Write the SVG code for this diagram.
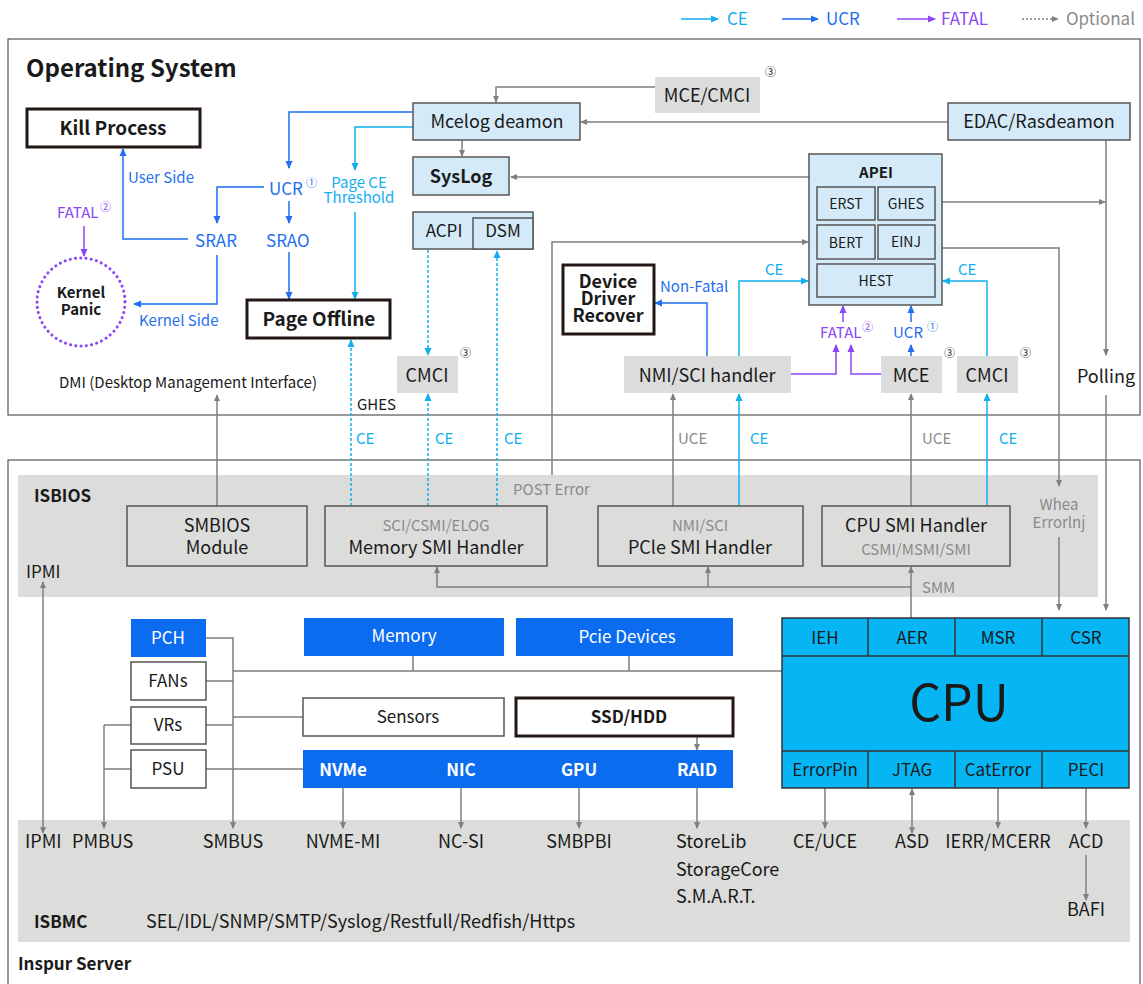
<svg xmlns="http://www.w3.org/2000/svg" width="1143" height="984" viewBox="0 0 1143 984">
<defs>
<style>
text{font-family:"Noto Sans CJK SC","Noto Sans",sans-serif;fill:#1a1a1a}
.t18{font-size:18px}
.t17{font-size:17px}
.t15{font-size:15px}
.t14{font-size:14px}
.b{font-weight:bold}
.m{text-anchor:middle}
.gy{fill:#8a8a8a}
.ce{fill:#12aef0}
.ucr{fill:#1f6ff0}
.fat{fill:#8b47f5}
.wh{fill:#ffffff}
.num{font-size:11px}
.frame{fill:none;stroke:#555;stroke-width:1.2}
.band{fill:#dcdddb}
.lb{fill:#d4eaf8;stroke:#555;stroke-width:1.5}
.gb{fill:#dcdcdc}
.bx{fill:none;stroke:#555;stroke-width:1.5}
.wb{fill:#fff;stroke:#555;stroke-width:1.5}
.thick{fill:#fff;stroke:#231815;stroke-width:3}
.blue{fill:#0b6cf0}
.cpu{fill:#06b6f4;stroke:#333;stroke-width:1.5}
.c{fill:none;stroke-width:1.5}
.g{stroke:#7f7f7f}
.cl{stroke:#12aef0}
.ul{stroke:#1f6ff0}
.fl{stroke:#8b47f5}
.dot{stroke-dasharray:3 2}
.ag{marker-end:url(#ag)}
.ac{marker-end:url(#ac)}
.au{marker-end:url(#au)}
.af{marker-end:url(#af)}
</style>
<marker id="ag" viewBox="0 0 8 8" refX="7" refY="4" markerWidth="7" markerHeight="7" orient="auto" markerUnits="userSpaceOnUse"><path d="M0,0.5 L8,4 L0,7.5 Z" fill="#7f7f7f"/></marker>
<marker id="ags" viewBox="0 0 8 8" refX="1" refY="4" markerWidth="7" markerHeight="7" orient="auto-start-reverse" markerUnits="userSpaceOnUse"><path d="M0,0.5 L8,4 L0,7.5 Z" fill="#7f7f7f"/></marker>
<marker id="ac" viewBox="0 0 8 8" refX="7" refY="4" markerWidth="8" markerHeight="8" orient="auto" markerUnits="userSpaceOnUse"><path d="M0,0.5 L8,4 L0,7.5 Z" fill="#12aef0"/></marker>
<marker id="au" viewBox="0 0 8 8" refX="7" refY="4" markerWidth="8" markerHeight="8" orient="auto" markerUnits="userSpaceOnUse"><path d="M0,0.5 L8,4 L0,7.5 Z" fill="#1f6ff0"/></marker>
<marker id="af" viewBox="0 0 8 8" refX="7" refY="4" markerWidth="8" markerHeight="8" orient="auto" markerUnits="userSpaceOnUse"><path d="M0,0.5 L8,4 L0,7.5 Z" fill="#8b47f5"/></marker>
</defs>
<rect width="1143" height="984" fill="#fff"/>

<g id="legend">
<path class="c cl ac" d="M681,19 H718"/><text class="t17 ce" x="727" y="25">CE</text>
<path class="c ul au" d="M782,19 H818"/><text class="t17 ucr" x="826" y="25">UCR</text>
<path class="c fl af" d="M897,19 H935"/><text class="t17 fat" x="941" y="25">FATAL</text>
<path class="c g ag" d="M1022,19 H1058" stroke-dasharray="2 2"/><text class="t17 gy" x="1066" y="25">Optional</text>
</g>

<g id="frames">
<rect class="frame" x="8" y="39" width="1132" height="376"/>
<rect class="frame" x="8" y="460" width="1132" height="540"/>
<rect class="band" x="18" y="475" width="1080" height="122"/>
<rect class="band" x="18" y="820" width="1112" height="122"/>
<text x="26" y="77" font-size="24" class="b">Operating System</text>
<text x="34" y="502" class="t17 b">ISBIOS</text>
<text x="34" y="928" class="t17 b">ISBMC</text>
<text x="18" y="970" class="t17 b">Inspur Server</text>
</g>

<g id="connectors">
<path class="c g ag" d="M655,87 H496 V102"/>
<path class="c g ag" d="M948,122 H581"/>
<path class="c g ag" d="M462,140 V156"/>
<path class="c g ag" d="M809,177 H511"/>
<path class="c g ag" d="M942,202 H1105"/>
<path class="c g ag" d="M942,248 H1059 V486"/>
<path class="c g ag" d="M1106,140 V355"/>
<path class="c g ag" d="M1106,395 V610"/>
<path class="c g ag" d="M1059,537 V610"/>
<path class="c g ag" d="M552,475 V242 H808"/>
<path class="c g ag" d="M217,506 V395"/>
<path class="c g ag" d="M673,506 V394"/>
<path class="c g ag" d="M911,506 V394"/>
<path class="c g ag" d="M911,618 V567"/>
<path class="c g ag" d="M911,587 H437 V567"/>
<path class="c g ag" d="M708,587 V567"/>
<path class="c g ag" d="M43,828 V582" marker-start="url(#ags)"/>
<path class="c g" d="M131,725 H104 M131,769 H104"/>
<path class="c g ag" d="M104,725 V828"/>
<path class="c g" d="M206,681 H233 M206,725 H233 M233,717 H303 M233,671 H782 M413,656 V671 M629,656 V671 M206,769 H303"/>
<path class="c g ag" d="M206,638 H233 V828"/>
<path class="c g ag" d="M697,737 V750"/>
<path class="c g ag" d="M343,788 V828"/>
<path class="c g ag" d="M461,788 V828"/>
<path class="c g ag" d="M579,788 V828"/>
<path class="c g ag" d="M697,788 V828"/>
<path class="c g ag" d="M825,788 V828"/>
<path class="c g ag" d="M912,828 V789" marker-start="url(#ags)"/>
<path class="c g ag" d="M998,788 V828"/>
<path class="c g ag" d="M1086,788 V828"/>
<path class="c g ag" d="M1086,855 V900"/>
<path class="c cl ac" d="M413,127 H355 V170"/>
<path class="c cl ac" d="M355,212 V299"/>
<path class="c cl ac" d="M739,506 V394"/>
<path class="c cl ac" d="M739,356 V281 H808"/>
<path class="c cl ac" d="M987,506 V394"/>
<path class="c cl ac" d="M987,356 V281 H943"/>
<path class="c cl dot ac" d="M351,506 V340"/>
<path class="c cl dot ac" d="M428,506 V394"/>
<path class="c cl dot ac" d="M497,506 V251"/>
<path class="c cl dot ac" d="M428,250 V355"/>
<path class="c ul au" d="M413,112 H289 V168"/>
<path class="c ul au" d="M289,201 V223"/>
<path class="c ul au" d="M264,187 H217 V223"/>
<path class="c ul au" d="M289,252 V299"/>
<path class="c ul au" d="M188,239 H123 V149"/>
<path class="c ul au" d="M217,255 V304 H134"/>
<path class="c ul au" d="M707,356 V303 H655"/>
<path class="c ul au" d="M911,322 V306"/>
<path class="c ul au" d="M911,356 V345"/>
<path class="c fl af" d="M84,226 V256"/>
<path class="c fl af" d="M843,322 V306"/>
<path class="c fl af" d="M791,374 H836 V345"/>
<path class="c fl af" d="M881,374 H851 V345"/>
</g>

<g id="labels">
<text x="128" y="183" class="t15 ucr">User Side</text>
<text x="139" y="326" class="t15 ucr">Kernel Side</text>
<text x="269" y="195" class="t17 ucr">UCR</text><text x="306" y="187" class="num ucr">①</text>
<text x="195" y="247" class="t17 ucr">SRAR</text>
<text x="266" y="247" class="t17 ucr">SRAO</text>
<text x="57" y="218" class="t15 fat">FATAL</text><text x="100" y="211" class="num fat">②</text>
<text x="359" y="188" class="t15 ce m">Page CE<tspan x="359" dy="15">Threshold</tspan></text>
<text x="59" y="388" class="t15">DMI (Desktop Management Interface)</text>
<text x="357" y="410" class="t15">GHES</text>
<text x="660" y="292" class="t15 ucr">Non-Fatal</text>
<text x="765" y="275" class="t15 ce">CE</text>
<text x="958" y="275" class="t15 ce">CE</text>
<text x="820" y="338" class="t15 fat">FATAL</text><text x="862" y="331" class="num fat">②</text>
<text x="893" y="338" class="t15 ucr">UCR</text><text x="927" y="331" class="num ucr">①</text>
<text x="356" y="444" class="t15 ce">CE</text>
<text x="435" y="444" class="t15 ce">CE</text>
<text x="504" y="444" class="t15 ce">CE</text>
<text x="678" y="444" class="t15 gy">UCE</text>
<text x="750" y="444" class="t15 ce">CE</text>
<text x="922" y="444" class="t15 gy">UCE</text>
<text x="999" y="444" class="t15 ce">CE</text>
<text x="513" y="495" class="t15 gy">POST Error</text>
<text x="922" y="593" class="t15 gy">SMM</text>
<text x="1059" y="510" class="t15 gy m">Whea<tspan x="1059" dy="18">Errorlnj</tspan></text>
<text x="26" y="578" class="t17">IPMI</text>
<text x="1106" y="383" class="t18 m">Polling</text>
</g>

<g id="kill-process"><rect class="thick" x="27" y="109" width="173" height="38"/><text x="113" y="135" font-size="19" class="b m">Kill Process</text></g>
<g id="kernel-panic"><circle cx="81" cy="302" r="44" fill="none" stroke="#8b47f5" stroke-width="3" stroke-linecap="round" stroke-dasharray="0.1 5.2"/><text x="81" y="298" class="t15 b m">Kernel<tspan x="81" dy="17">Panic</tspan></text></g>
<g id="page-offline"><rect class="thick" x="247" y="300" width="143" height="38"/><text x="319" y="326" font-size="19" class="b m">Page Offline</text></g>
<g id="mcelog"><rect class="lb" x="413" y="103" width="167" height="37"/><text x="497" y="128" class="t18 m">Mcelog deamon</text></g>
<g id="mce-cmci-top"><rect class="gb" x="655" y="77" width="105" height="36"/><text x="707" y="102" class="t18 m">MCE/CMCI</text><text x="765" y="76" class="num">③</text></g>
<g id="edac"><rect class="lb" x="948" y="103" width="182" height="37"/><text x="1039" y="128" class="t18 m">EDAC/Rasdeamon</text></g>
<g id="syslog"><rect class="lb" x="413" y="157" width="96" height="38"/><text x="461" y="183" class="t18 b m">SysLog</text></g>
<g id="acpi"><rect class="lb" x="413" y="212" width="120" height="37"/><rect class="lb" x="473" y="218" width="60" height="31"/><text x="444" y="237" class="t17 m">ACPI</text><text x="503" y="237" class="t17 m">DSM</text></g>
<g id="apei"><rect class="lb" x="809" y="154" width="133" height="151"/><text x="876" y="178" class="t15 b m">APEI</text>
<rect class="lb" x="817" y="187" width="58" height="33"/><text x="846" y="209" class="t14 m">ERST</text>
<rect class="lb" x="878" y="187" width="57" height="33"/><text x="906" y="209" class="t14 m">GHES</text>
<rect class="lb" x="817" y="225" width="58" height="34"/><text x="846" y="248" class="t14 m">BERT</text>
<rect class="lb" x="878" y="225" width="57" height="34"/><text x="906" y="247" class="t14 m">EINJ</text>
<rect class="lb" x="817" y="264" width="118" height="33"/><text x="876" y="286" class="t14 m">HEST</text></g>
<g id="ddr"><rect class="thick" x="563" y="265" width="91" height="69"/><text x="608" y="288" class="t18 b m">Device<tspan x="608" dy="17">Driver</tspan><tspan x="608" dy="17">Recover</tspan></text></g>
<g id="cmci-left"><rect class="gb" x="397" y="356" width="61" height="37"/><text x="427" y="382" class="t18 m">CMCI</text><text x="460" y="357" class="num">③</text></g>
<g id="nmi-sci"><rect class="gb" x="624" y="356" width="167" height="37"/><text x="707" y="382" class="t18 m">NMI/SCI handler</text></g>
<g id="mce"><rect class="gb" x="881" y="356" width="61" height="37"/><text x="911" y="382" class="t18 m">MCE</text><text x="944" y="357" class="num">③</text></g>
<g id="cmci-right"><rect class="gb" x="957" y="356" width="61" height="37"/><text x="987" y="382" class="t18 m">CMCI</text><text x="1020" y="357" class="num">③</text></g>

<g id="smbios"><rect class="bx" x="127" y="506" width="180" height="60"/><text x="217" y="532" class="t18 m">SMBIOS</text><text x="217" y="554" class="t18 m">Module</text></g>
<g id="mem-smi"><rect class="bx" x="325" y="506" width="222" height="60"/><text x="436" y="531" class="t15 gy m">SCI/CSMI/ELOG</text><text x="436" y="554" class="t18 m">Memory SMI Handler</text></g>
<g id="pcie-smi"><rect class="bx" x="598" y="506" width="205" height="60"/><text x="700" y="531" class="t15 gy m">NMI/SCI</text><text x="700" y="554" class="t18 m">PCle SMI Handler</text></g>
<g id="cpu-smi"><rect class="bx" x="822" y="506" width="188" height="60"/><text x="916" y="532" class="t18 m">CPU SMI Handler</text><text x="916" y="555" class="t15 gy m">CSMI/MSMI/SMI</text></g>

<g id="pch"><rect class="blue" x="131" y="619" width="75" height="38"/><text x="168" y="644" class="t17 wh m">PCH</text></g>
<g id="fans"><rect class="wb" x="131" y="662" width="75" height="38"/><text x="168" y="687" class="t17 m">FANs</text></g>
<g id="vrs"><rect class="wb" x="131" y="707" width="75" height="37"/><text x="168" y="731" class="t17 m">VRs</text></g>
<g id="psu"><rect class="wb" x="131" y="750" width="75" height="38"/><text x="168" y="775" class="t17 m">PSU</text></g>
<g id="memory"><rect class="blue" x="304" y="618" width="200" height="38"/><text x="404" y="642" class="t17 wh m">Memory</text></g>
<g id="pcie-devices"><rect class="blue" x="516" y="618" width="217" height="38"/><text x="627" y="643" class="t17 wh m">Pcie Devices</text></g>
<g id="sensors"><rect class="wb" x="303" y="698" width="201" height="38"/><text x="408" y="723" class="t17 m">Sensors</text></g>
<g id="ssd"><rect class="thick" x="516" y="698" width="217" height="38" stroke-width="2.5"/><text x="629" y="723" class="t17 b m">SSD/HDD</text></g>
<g id="devices"><rect class="blue" x="303" y="750" width="430" height="38"/>
<text x="343" y="776" class="t17 b wh m">NVMe</text><text x="461" y="776" class="t17 b wh m">NIC</text><text x="579" y="776" class="t17 b wh m">GPU</text><text x="697" y="776" class="t17 b wh m">RAID</text></g>
<g id="cpu"><rect class="cpu" x="782" y="618" width="347" height="170"/>
<path d="M782,656 H1129 M782,751 H1129 M868,618 V656 M955,618 V656 M1042,618 V656 M868,751 V788 M955,751 V788 M1042,751 V788" stroke="#333" stroke-width="1.5" fill="none"/>
<text x="825" y="644" class="t17 m">IEH</text><text x="912" y="644" class="t17 m">AER</text><text x="998" y="644" class="t17 m">MSR</text><text x="1086" y="644" class="t17 m">CSR</text>
<text x="959" y="721" font-size="50" class="m">CPU</text>
<text x="825" y="776" class="t17 m">ErrorPin</text><text x="912" y="776" class="t17 m">JTAG</text><text x="998" y="776" class="t17 m">CatError</text><text x="1086" y="776" class="t17 m">PECI</text></g>

<g id="bmc-labels">
<text x="25" y="848" class="t18">IPMI</text>
<text x="72" y="848" class="t18">PMBUS</text>
<text x="233" y="848" class="t18 m">SMBUS</text>
<text x="343" y="848" class="t18 m">NVME-MI</text>
<text x="461" y="848" class="t18 m">NC-SI</text>
<text x="579" y="848" class="t18 m">SMBPBI</text>
<text x="676" y="848" class="t18">StoreLib</text>
<text x="676" y="876" class="t18">StorageCore</text>
<text x="676" y="903" class="t18">S.M.A.R.T.</text>
<text x="825" y="848" class="t18 m">CE/UCE</text>
<text x="912" y="848" class="t18 m">ASD</text>
<text x="998" y="848" class="t18 m">IERR/MCERR</text>
<text x="1086" y="848" class="t18 m">ACD</text>
<text x="1086" y="916" class="t18 m">BAFI</text>
<text x="146" y="928" class="t18">SEL/IDL/SNMP/SMTP/Syslog/Restfull/Redfish/Https</text>
</g>
</svg>
